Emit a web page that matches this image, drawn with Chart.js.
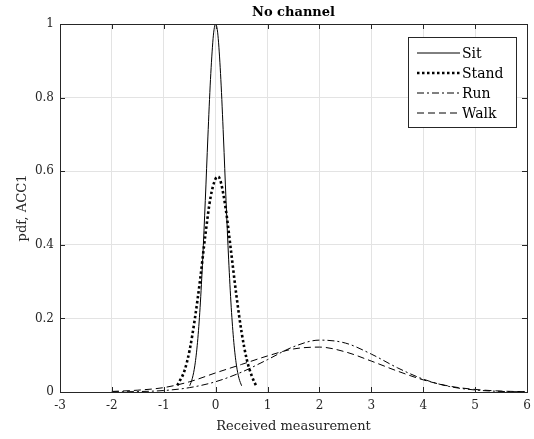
<!DOCTYPE html>
<html>
<head>
<meta charset="utf-8">
<script src="https://cdn.jsdelivr.net/npm/chart.js@4.4.1/dist/chart.umd.min.js"></script>
<style>
  body { margin: 0; background: #fff; }
  #wrap { width: 534px; height: 439px; }
</style>
</head>
<body>
<div id="wrap"><canvas id="pdfChart" width="534" height="439"></canvas></div>
<script>
// values
const sitX = [-0.5, -0.45, -0.4, -0.35, -0.3, -0.25, -0.2, -0.15, -0.1, -0.05, -0.025, 0, 0.025, 0.05, 0.1, 0.15, 0.2, 0.25, 0.3, 0.35, 0.4, 0.45, 0.5];
const sitY = [0.017, 0.037, 0.073, 0.135, 0.23, 0.361, 0.52, 0.693, 0.849, 0.96, 0.99, 1.0, 0.99, 0.96, 0.849, 0.693, 0.52, 0.361, 0.23, 0.135, 0.073, 0.037, 0.017];

const standX = [-0.74, -0.7, -0.6, -0.5, -0.4, -0.3, -0.2, -0.1, 0, 0.05, 0.1, 0.2, 0.3, 0.4, 0.5, 0.6, 0.7, 0.79];
const standY = [0.018, 0.028, 0.058, 0.115, 0.2, 0.305, 0.425, 0.528, 0.58, 0.585, 0.57, 0.492, 0.378, 0.262, 0.162, 0.088, 0.042, 0.014];

const runX = [-2, -1.5, -1, -0.5, 0, 0.5, 1, 1.5, 2, 2.5, 3, 3.5, 4, 4.5, 5, 5.5, 6];
const runY = [0.0005, 0.0012, 0.004, 0.012, 0.028, 0.054, 0.088, 0.123, 0.141, 0.133, 0.103, 0.066, 0.035, 0.015, 0.0055, 0.0016, 0.0004];

const walkX = [-2, -1.5, -1, -0.5, 0, 0.5, 1, 1.5, 2, 2.5, 3, 3.5, 4, 4.5, 5, 5.5, 6];
const walkY = [0.0015, 0.005, 0.012, 0.028, 0.052, 0.075, 0.098, 0.117, 0.122, 0.109, 0.084, 0.057, 0.033, 0.016, 0.007, 0.0025, 0.0008];

const seriesNames = ["Sit", "Stand", "Run", "Walk"];
const xTicks = [-3, -2, -1, 0, 1, 2, 3, 4, 5, 6];
const yTicks = [0, 0.2, 0.4, 0.6, 0.8, 1];

const serif = "'DejaVu Serif', 'Liberation Serif', serif";
const axisColor = "#262626";

const toPoints = (xs, ys) => xs.map((x, i) => ({ x: x, y: ys[i] }));

// box, inward ticks and the legend, matlab style
const matlabFrame = {
  id: "matlabFrame",
  afterDatasetsDraw(chart) {
    const ctx = chart.ctx;
    const area = chart.chartArea;
    const xs = chart.scales.x;
    const ys = chart.scales.y;
    const tl = 5;
    ctx.save();
    ctx.strokeStyle = axisColor;
    ctx.lineWidth = 1;
    ctx.beginPath();
    xTicks.forEach(v => {
      const px = Math.round(xs.getPixelForValue(v)) + 0.5;
      ctx.moveTo(px, area.bottom); ctx.lineTo(px, area.bottom - tl);
      ctx.moveTo(px, area.top); ctx.lineTo(px, area.top + tl);
    });
    yTicks.forEach(v => {
      const py = Math.round(ys.getPixelForValue(v)) + 0.5;
      ctx.moveTo(area.left, py); ctx.lineTo(area.left + tl, py);
      ctx.moveTo(area.right, py); ctx.lineTo(area.right - tl, py);
    });
    ctx.stroke();
    ctx.strokeRect(Math.round(area.left) + 0.5, Math.round(area.top) + 0.5,
      Math.round(area.right - area.left), Math.round(area.bottom - area.top));

    // legend
    const lx = 408.5, ly = 37.5, lw = 108, lh = 90;
    ctx.fillStyle = "#fff";
    ctx.fillRect(lx, ly, lw, lh);
    ctx.strokeStyle = axisColor;
    ctx.lineWidth = 1;
    ctx.setLineDash([]);
    ctx.strokeRect(lx, ly, lw, lh);
    const rowY = [53, 73, 93, 113];
    chart.data.datasets.forEach((ds, i) => {
      ctx.strokeStyle = "#000";
      ctx.lineWidth = ds.borderWidth;
      ctx.setLineDash(ds.borderDash || []);
      ctx.beginPath();
      ctx.moveTo(417, rowY[i]);
      ctx.lineTo(460, rowY[i]);
      ctx.stroke();
      ctx.setLineDash([]);
      ctx.fillStyle = "#000";
      ctx.font = "14px " + serif;
      ctx.textBaseline = "middle";
      ctx.fillText(ds.label, 462, rowY[i] + 1);
    });
    ctx.restore();
  }
};

const lineDefaults = {
  showLine: true,
  pointRadius: 0,
  borderColor: "#000",
  backgroundColor: "#000",
  fill: false,
  cubicInterpolationMode: "monotone"
};

new Chart(document.getElementById("pdfChart").getContext("2d"), {
  type: "scatter",
  data: {
    datasets: [
      { ...lineDefaults, label: seriesNames[0], data: toPoints(sitX, sitY), borderWidth: 1 },
      { ...lineDefaults, label: seriesNames[1], data: toPoints(standX, standY), borderWidth: 2.6, borderDash: [2.5, 2.5] },
      { ...lineDefaults, label: seriesNames[2], data: toPoints(runX, runY), borderWidth: 1, borderDash: [7, 3, 2, 3] },
      { ...lineDefaults, label: seriesNames[3], data: toPoints(walkX, walkY), borderWidth: 1, borderDash: [7, 4] }
    ]
  },
  options: {
    responsive: false,
    animation: false,
    layout: { padding: { top: 0, right: 7, left: 0, bottom: 0 } },
    plugins: {
      legend: { display: false },
      tooltip: { enabled: false },
      title: {
        display: true,
        fullSize: false,
        text: "No channel",
        color: "#000",
        font: { family: serif, size: 13, weight: "bold", lineHeight: 1.2 },
        padding: { top: 5, bottom: 3.4 }
      }
    },
    scales: {
      x: {
        type: "linear",
        min: -3,
        max: 6,
        afterBuildTicks: scale => { scale.ticks = xTicks.map(v => ({ value: v })); },
        afterFit: scale => { scale.height = 47; scale.paddingLeft = 0; scale.paddingRight = 0; },
        grid: { color: "#e3e3e3", drawTicks: false },
        border: { display: false },
        ticks: { color: "#262626", font: { family: serif, size: 12 }, padding: 7, maxRotation: 0,
          callback: v => String(v) },
        title: {
          display: true,
          text: "Received measurement",
          color: "#262626",
          font: { family: serif, size: 13, lineHeight: 1.2 },
          padding: { top: 0, bottom: 5 }
        }
      },
      y: {
        type: "linear",
        min: 0,
        max: 1,
        afterBuildTicks: scale => { scale.ticks = yTicks.map(v => ({ value: v })); },
        afterFit: scale => { scale.width = 60; scale.paddingTop = 0; scale.paddingBottom = 0; },
        grid: { color: "#e3e3e3", drawTicks: false },
        border: { display: false },
        ticks: { color: "#262626", font: { family: serif, size: 12 }, padding: 6,
          callback: v => String(Math.round(v * 10) / 10) },
        title: {
          display: true,
          text: "pdf, ACC1",
          color: "#262626",
          font: { family: serif, size: 13, lineHeight: 1.2 },
          padding: { top: 15, bottom: 0 }
        }
      }
    }
  },
  plugins: [matlabFrame]
});
</script>
</body>
</html>
